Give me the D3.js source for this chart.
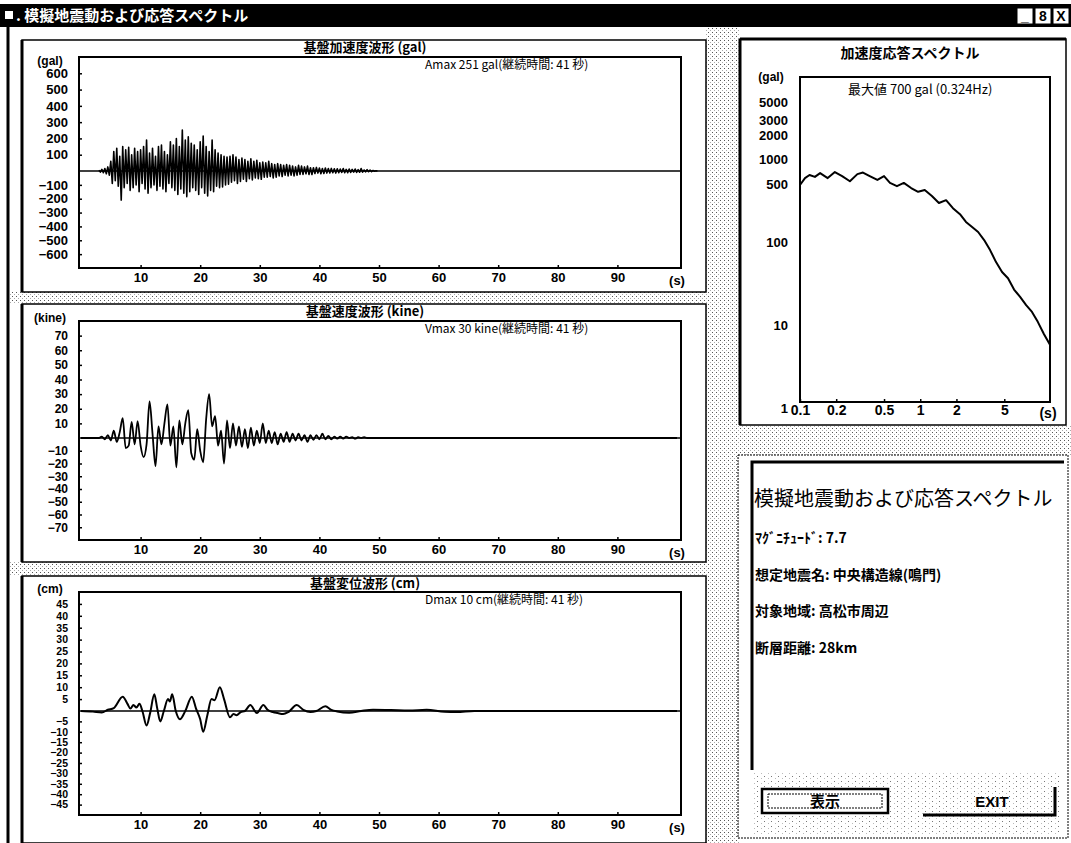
<!DOCTYPE html>
<html>
<head>
<meta charset="utf-8">
<title>模擬地震動および応答スペクトル</title>
<script src="https://cdn.jsdelivr.net/npm/d3@7"></script>
<style>
  body { margin: 0; background: #fff; }
  svg text { font-family: "Liberation Sans Narrow", "Liberation Sans", Arial, sans-serif; fill: #000; }
  svg text.jp { font-family: "Noto Sans CJK JP", sans-serif; }
</style>
</head>
<body>
<svg id="chart" width="1071" height="843"></svg>
<script>
// ---- data ----
const secTicks = [10, 20, 30, 40, 50, 60, 70, 80, 90];
const accelTicks = [600, 500, 400, 300, 200, 100, -100, -200, -300, -400, -500, -600];
const veloTicks = [70, 60, 50, 40, 30, 20, 10, -10, -20, -30, -40, -50, -60, -70];
const dispTicks = [45, 40, 35, 30, 25, 20, 15, 10, 5, -5, -10, -15, -20, -25, -30, -35, -40, -45];

// acceleration peaks, one every 0.25 s from t = 3 s (gal)
const accelStart = 3, accelStep = 0.25;
const accelPeaks = [
  5, -8, 10, -12, 15, -20, 25, -30,
  60, -90, 120, -70, 140, -110, 90, -210,
  150, -120, 130, -90, 145, -140, 100, -120,
  140, -100, 120, -150, 130, -90, 150, -130,
  190, -160, 110, -120, 140, -100, 90, -140,
  150, -110, 160, -130, 120, -150, 100, -90,
  180, -120, 160, -140, 200, -170, 150, -130,
  251, -160, 190, -185, 210, -150, 170, -120,
  160, -140, 130, -170, 180, -120, 215, -160,
  150, -180, 120, -140, 190, -150, 130, -110,
  110, -120, 100, -115, 90, -100, 85, -95,
  90, -80, 100, -70, 85, -90, 70, -75,
  80, -60, 70, -75, 60, -55, 75, -65,
  60, -50, 65, -55, 50, -60, 55, -45,
  50, -45, 60, -40, 45, -50, 40, -45,
  45, -35, 40, -40, 35, -30, 40, -35,
  35, -30, 30, -35, 25, -30, 35, -25,
  30, -25, 25, -20, 30, -25, 20, -25,
  20, -18, 22, -15, 18, -20, 15, -18,
  18, -15, 15, -14, 16, -12, 14, -15,
  14, -12, 12, -10, 15, -12, 10, -12,
  12, -10, 10, -8, 12, -10, 8, -9,
  15, -8, 6, -6, 8, -5, 5, -4,
  3, -2, 1, 0
];

// velocity (kine)
const veloT = [0, 3, 3.5, 4, 4.5, 5, 5.5, 6, 6.5, 7, 7.5, 8, 8.5, 9, 9.5, 10, 10.5, 11, 11.5, 12, 12.5, 13, 13.5,
  14, 14.5, 15, 15.5, 16, 16.5, 17, 17.5, 18, 18.5, 19, 19.5, 20, 20.5, 21, 21.5, 22, 22.5, 23, 23.5, 24, 24.5,
  25, 25.5, 26, 26.5, 27, 27.5, 28, 28.5, 29, 29.5, 30, 30.5, 31, 31.5, 32, 32.5, 33, 33.5, 34, 34.5, 35, 35.5,
  36, 36.5, 37, 37.5, 38, 38.5, 39, 39.5, 40, 40.5, 41, 41.5, 42, 42.5, 43, 43.5, 44, 44.5, 45, 45.5, 46, 46.5,
  47, 47.5, 48, 100];
const veloV = [0, 0, 1, -1, 2, -2, 5, -3, 4, 13.5, -8, -6, 11, -5, 11.6, -6, -15, -5, 25, 3, -22, 8, -5,
  10, 23, -6, 8, -23, 12, -5, 10, 19, -12, -17, 6, -10, -19, 13, 30, 8, 15, -6, 5, -20, 12,
  -8, 10, -6, 8, -7, 6, -8, 7, -6, 5, -4, 10, -4, 5, -4, 4, -5, 3, -3, 4, -3, 3,
  -2, 3, -2, 2, -3, 2, -1.5, 2, -1, 3, -1, 1.5, -1, 1, -0.5, 1, -0.5, 1, 0, 0.5, -0.5, 0.5,
  0, 0.5, 0, 0];

// displacement (cm)
const dispT = [0, 2, 3.5, 4.5, 5.5, 7, 7.8, 8.3, 8.8, 9.3, 9.8, 10.3, 11, 11.6, 12.3, 12.8, 13.3, 13.9, 14.6,
  14.9, 15.3, 15.9, 16.6, 17.5, 18.6, 19.3, 20, 20.5, 21.2, 21.9, 22.4, 23.3, 24, 25, 25.6, 26.1, 26.8, 27.5,
  28.4, 29.5, 30.6, 31.3, 32.2, 33, 33.9, 34.8, 36.2, 37.3, 38.5, 39.5, 41, 42, 43, 45, 47, 49, 52, 55, 58,
  61, 63, 66, 100];
const dispV = [0, -0.3, -0.7, 0.5, 1.2, 6, 3, 1, 2.5, 1.5, 3, 0, -7, -1, 7, 1, -5, 0, 5,
  4, 7, 0, -4, 0, 6, 1, -4, -10, -2, 5, 4.5, 10, 5, -3, -1.5, -2, -0.5, 0,
  2.5, -1, 2.5, 0.5, -0.5, -1, -1.5, -0.5, 2.5, 0.5, -0.5, 0, 2, 0.5, -0.2, -0.8, 0, 0.5, 0.4, 0.2, 0.5,
  -0.4, -0.5, 0, 0];

// acceleration response spectrum
const specPeriod = [0.10, 0.11, 0.12, 0.133, 0.147, 0.17, 0.195, 0.224, 0.26, 0.30, 0.334, 0.38, 0.44, 0.50,
  0.56, 0.64, 0.73, 0.84, 0.96, 1.09, 1.25, 1.43, 1.64, 1.87, 2.14, 2.4, 2.7, 3.03, 3.4, 3.81, 4.27, 4.79,
  5.37, 6.03, 6.77, 7.6, 8.5, 9.5, 10.7, 12.0];
const specAcc = [495, 600, 655, 620, 690, 600, 710, 635, 550, 670, 700, 635, 570, 635,
  525, 480, 525, 455, 410, 430, 365, 300, 325, 260, 220, 177, 154, 134, 107, 81, 58, 44,
  37, 27, 22, 17.5, 14.5, 11, 7.8, 5.8];
const specYTicks = [5000, 3000, 2000, 1000, 500, 100, 10, 1];
const specXTicks = [0.1, 0.2, 0.5, 1, 2, 5];

const infoLines = [
  "ﾏｸﾞﾆﾁｭｰﾄﾞ: 7.7",
  "想定地震名: 中央構造線(鳴門)",
  "対象地域: 高松市周辺",
  "断層距離: 28km"
];

// ---- drawing ----
const svg = d3.select("#chart");

const defs = svg.append("defs");
const pat = defs.append("pattern").attr("id", "stip")
  .attr("width", 4).attr("height", 4).attr("patternUnits", "userSpaceOnUse");
pat.append("rect").attr("x", 0).attr("y", 0).attr("width", 1).attr("height", 1).attr("fill", "#555");
pat.append("rect").attr("x", 2).attr("y", 2).attr("width", 1).attr("height", 1).attr("fill", "#aaa");
const pat2 = defs.append("pattern").attr("id", "stip2")
  .attr("width", 7).attr("height", 5).attr("patternUnits", "userSpaceOnUse");
pat2.append("rect").attr("x", 1).attr("y", 1).attr("width", 1).attr("height", 1).attr("fill", "#777");
pat2.append("rect").attr("x", 5).attr("y", 3).attr("width", 1).attr("height", 1).attr("fill", "#bbb");

// stippled background strips
[[706, 28, 34, 815], [10, 292, 696, 12], [10, 562, 696, 14], [738, 425, 333, 30]].forEach(r => {
  svg.append("rect").attr("x", r[0]).attr("y", r[1]).attr("width", r[2]).attr("height", r[3])
    .attr("fill", "url(#stip)");
});
svg.append("rect").attr("x", 752).attr("y", 772).attr("width", 310).attr("height", 62).attr("fill", "url(#stip2)");

// title bar
svg.append("rect").attr("x", 0).attr("y", 4).attr("width", 1071).attr("height", 23).attr("fill", "#000");
svg.append("rect").attr("x", 5).attr("y", 11).attr("width", 8).attr("height", 8).attr("fill", "#fff");
svg.append("text").attr("class", "jp").attr("x", 16).attr("y", 21)
  .attr("font-size", 15).attr("font-weight", "bold").style("fill", "#fff")
  .text(". 模擬地震動および応答スペクトル");
["_", "8", "X"].forEach((s, i) => {
  const bx = 1017 + i * 18;
  svg.append("rect").attr("x", bx).attr("y", 8).attr("width", 16).attr("height", 16)
    .attr("fill", "#fff").attr("stroke", "#000");
  svg.append("text").attr("x", bx + 8).attr("y", 21).attr("text-anchor", "middle")
    .attr("font-size", 14).attr("font-weight", "bold").text(s);
});

// window left frame
svg.append("line").attr("x1", 8).attr("x2", 8).attr("y1", 27).attr("y2", 843)
  .attr("stroke", "#000").attr("stroke-width", 3);

// ---- waveform panels ----
const x = d3.scaleLinear().domain([0, 100]).range([81, 677]);
const boxL = 79, boxR = 681;

function wavePanel(p) {
  const g = svg.append("g");
  g.append("rect").attr("x", 22).attr("y", p.outerTop).attr("width", 684).attr("height", p.outerH)
    .attr("fill", "#fff").attr("stroke", "#000").attr("stroke-width", 1.5);
  g.append("line").attr("x1", 22).attr("x2", 22).attr("y1", p.outerTop).attr("y2", p.outerTop + p.outerH)
    .attr("stroke", "#000").attr("stroke-width", 3);
  g.append("text").attr("class", "jp").attr("x", 365).attr("y", p.outerTop + 12)
    .attr("text-anchor", "middle").attr("font-size", 13).attr("font-weight", "bold").text(p.title);

  // piecewise scale: the positive and negative halves are not the same height
  const y = d3.scaleLinear().domain(p.domain).range([p.bottom, p.zero, p.top]);

  g.append("rect").attr("x", boxL).attr("y", p.top).attr("width", boxR - boxL).attr("height", p.bottom - p.top)
    .attr("fill", "none").attr("stroke", "#000").attr("stroke-width", 2);

  const ya = g.append("g").attr("transform", `translate(${boxL},0)`)
    .call(d3.axisLeft(y).tickValues(p.ticks).tickSize(-3).tickPadding(11));
  ya.select(".domain").remove();
  ya.selectAll("text").attr("font-size", p.fs).attr("font-weight", "bold")
    .attr("font-family", '"Liberation Sans Narrow", "Liberation Sans", sans-serif');
  ya.selectAll("line").attr("stroke-width", 1.5);

  const xa = g.append("g").attr("transform", `translate(0,${p.bottom})`)
    .call(d3.axisBottom(x).tickValues(secTicks).tickSize(-3).tickPadding(5));
  xa.select(".domain").remove();
  xa.selectAll("text").attr("font-size", 13).attr("font-weight", "bold")
    .attr("font-family", '"Liberation Sans Narrow", "Liberation Sans", sans-serif');
  xa.selectAll("line").attr("stroke-width", 1.5);
  g.append("text").attr("x", x(100)).attr("y", p.bottom + 17).attr("text-anchor", "middle")
    .attr("font-size", 13).attr("font-weight", "bold").text("(s)");

  g.append("text").attr("x", 50).attr("y", p.unitY).attr("text-anchor", "middle")
    .attr("font-size", 12).attr("font-weight", "bold").text(p.unit);

  g.append("text").attr("class", "jp").attr("x", 425).attr("y", p.top + 12)
    .attr("font-size", 12).text(p.note);

  // zero base line
  g.append("line").attr("x1", boxL).attr("x2", boxR).attr("y1", y(0)).attr("y2", y(0))
    .attr("stroke", "#000").attr("stroke-width", 1.6);

  const line = d3.line().x(d => x(d[0])).y(d => y(d[1])).curve(p.curve);
  g.append("path").datum(p.points).attr("d", line)
    .attr("fill", "none").attr("stroke", "#000").attr("stroke-width", p.sw).attr("stroke-linejoin", "round");
}

wavePanel({
  outerTop: 40, outerH: 252, top: 57, zero: 171, bottom: 268, unitY: 65,
  domain: [-700, 0, 700], ticks: accelTicks, fs: 13,
  title: "基盤加速度波形 (gal)", unit: "(gal)",
  note: "Amax 251 gal(継続時間: 41 秒)",
  points: accelPeaks.map((v, i) => [accelStart + i * accelStep, v]),
  curve: d3.curveLinear, sw: 1.6
});
wavePanel({
  outerTop: 304, outerH: 258, top: 321, zero: 438, bottom: 540, unitY: 322,
  domain: [-80, 0, 80], ticks: veloTicks, fs: 12,
  title: "基盤速度波形 (kine)", unit: "(kine)",
  note: "Vmax 30 kine(継続時間: 41 秒)",
  points: veloT.map((t, i) => [t, veloV[i]]),
  curve: d3.curveMonotoneX, sw: 1.8
});
wavePanel({
  outerTop: 576, outerH: 267, top: 592, zero: 711, bottom: 815, unitY: 593,
  domain: [-50, 0, 50], ticks: dispTicks, fs: 10.5,
  title: "基盤変位波形 (cm)", unit: "(cm)",
  note: "Dmax 10 cm(継続時間: 41 秒)",
  points: dispT.map((t, i) => [t, dispV[i]]),
  curve: d3.curveMonotoneX, sw: 2
});

// ---- response spectrum panel ----
const sp = svg.append("g");
sp.append("rect").attr("x", 740).attr("y", 39).attr("width", 326).attr("height", 386)
  .attr("fill", "#fff").attr("stroke", "#000").attr("stroke-width", 1.5);
sp.append("line").attr("x1", 740).attr("x2", 740).attr("y1", 39).attr("y2", 425)
  .attr("stroke", "#000").attr("stroke-width", 3);
sp.append("line").attr("x1", 740).attr("x2", 1066).attr("y1", 39).attr("y2", 39)
  .attr("stroke", "#000").attr("stroke-width", 3);
sp.append("text").attr("class", "jp").attr("x", 910).attr("y", 58).attr("text-anchor", "middle")
  .attr("font-size", 14).attr("font-weight", "bold").text("加速度応答スペクトル");

const sx = d3.scaleLog().domain([0.1, 12]).range([800, 1050]);
const sy = d3.scaleLog().domain([1, 10000]).range([408, 77]);
sp.append("rect").attr("x", 800).attr("y", 77).attr("width", 250).attr("height", 325)
  .attr("fill", "none").attr("stroke", "#000").attr("stroke-width", 2);

const sya = sp.append("g").attr("transform", "translate(800,0)")
  .call(d3.axisLeft(sy).tickValues(specYTicks).tickFormat(d3.format("d")).tickSize(0).tickPadding(12));
sya.select(".domain").remove();
sya.selectAll("text").attr("font-size", 13).attr("font-weight", "bold")
  .attr("font-family", '"Liberation Sans Narrow", "Liberation Sans", sans-serif');
const sxa = sp.append("g").attr("transform", "translate(0,402)")
  .call(d3.axisBottom(sx).tickValues(specXTicks).tickFormat(d => String(d)).tickSize(-3).tickPadding(3));
sxa.select(".domain").remove();
sxa.selectAll("text").attr("font-size", 14).attr("font-weight", "bold")
  .attr("font-family", '"Liberation Sans Narrow", "Liberation Sans", sans-serif');
sxa.selectAll("line").attr("stroke-width", 1.5);
sp.append("text").attr("x", 1048).attr("y", 418).attr("text-anchor", "middle")
  .attr("font-size", 14).attr("font-weight", "bold").text("(s)");
sp.append("text").attr("x", 771).attr("y", 81).attr("text-anchor", "middle")
  .attr("font-size", 12).attr("font-weight", "bold").text("(gal)");
sp.append("text").attr("class", "jp").attr("x", 848).attr("y", 94)
  .attr("font-size", 13).text("最大値 700 gal  (0.324Hz)");

sp.append("path").datum(specPeriod.map((p, i) => [p, specAcc[i]]))
  .attr("d", d3.line().x(d => sx(d[0])).y(d => sy(d[1])))
  .attr("fill", "none").attr("stroke", "#000").attr("stroke-width", 2).attr("stroke-linejoin", "round");

// ---- info panel ----
const info = svg.append("g");
info.append("rect").attr("x", 738).attr("y", 455).attr("width", 330).attr("height", 383)
  .attr("fill", "none").attr("stroke", "#000").attr("stroke-width", 1).attr("stroke-dasharray", "2,1");
info.append("rect").attr("x", 752).attr("y", 462).attr("width", 312).attr("height", 308).attr("fill", "#fff");
info.append("path").attr("d", "M752,770V462H1064").attr("fill", "none")
  .attr("stroke", "#000").attr("stroke-width", 3);
info.append("text").attr("class", "jp").attr("x", 754).attr("y", 506)
  .attr("font-size", 20).text("模擬地震動および応答スペクトル");
info.selectAll("text.line").data(infoLines).enter().append("text")
  .attr("class", "jp line").attr("x", 755).attr("y", (d, i) => 543 + i * 36.5)
  .attr("font-size", 14).attr("font-weight", "bold").text(d => d);

// buttons
info.append("rect").attr("x", 762).attr("y", 789).attr("width", 126).attr("height", 24)
  .attr("fill", "#fff").attr("stroke", "#000").attr("stroke-width", 2.5);
info.append("rect").attr("x", 768).attr("y", 794).attr("width", 114).attr("height", 14)
  .attr("fill", "none").attr("stroke", "#000").attr("stroke-width", 1).attr("stroke-dasharray", "2,1");
info.append("text").attr("class", "jp").attr("x", 825).attr("y", 807).attr("text-anchor", "middle")
  .attr("font-size", 15).attr("font-weight", "bold").text("表示");
info.append("path").attr("d", "M923,815H1055V787").attr("fill", "none")
  .attr("stroke", "#000").attr("stroke-width", 3);
info.append("text").attr("x", 992).attr("y", 807).attr("text-anchor", "middle")
  .attr("font-size", 15).attr("font-weight", "bold").text("EXIT");
</script>
</body>
</html>
